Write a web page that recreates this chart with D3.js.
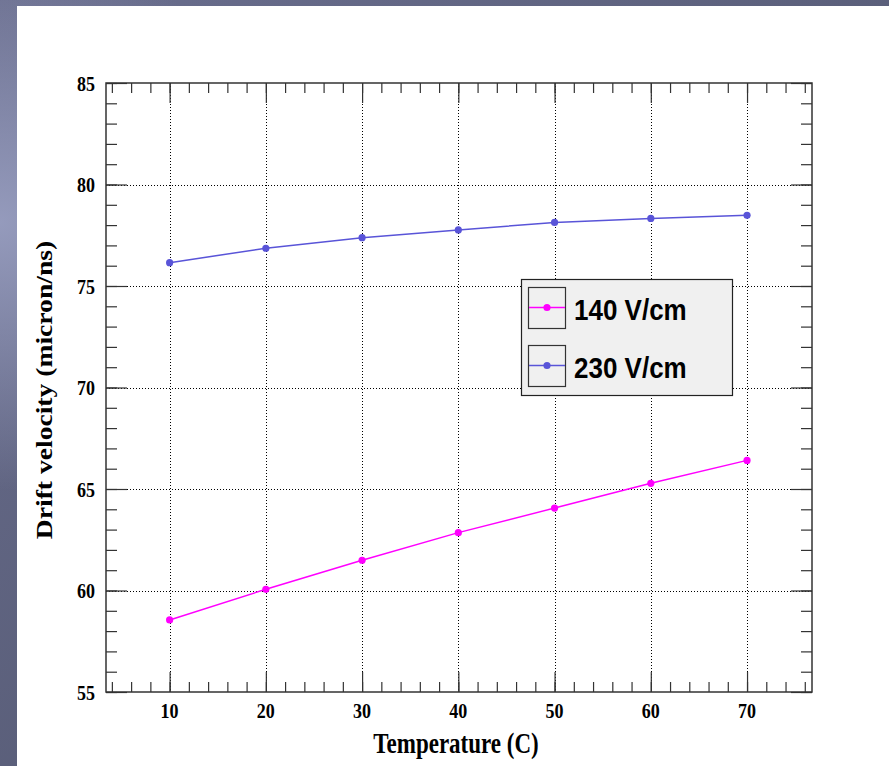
<!DOCTYPE html>
<html>
<head>
<meta charset="utf-8">
<script src="https://cdn.jsdelivr.net/npm/d3@7"></script>
<style>
  html, body { margin: 0; padding: 0; background: #5f6482; }
  svg { display: block; }
</style>
</head>
<body>
<svg id="chart" width="889" height="766"></svg>
<script>
// ---------- data ----------
const temperatures = [10, 20, 30, 40, 50, 60, 70];
const v140 = [58.55, 60.06, 61.49, 62.85, 64.06, 65.28, 66.41];
const v230 = [76.15, 76.86, 77.38, 77.76, 78.13, 78.33, 78.48];
const seriesNames = ["140 V/cm", "230 V/cm"];
const seriesColors = ["#ff00ff", "#5954d8"];
const xTickValues = [10, 20, 30, 40, 50, 60, 70];
const xMinorTicks = d3.range(4, 77, 2);
const yTickValues = [55, 60, 65, 70, 75, 80, 85];
const yMinorTicks = d3.range(55, 86, 1);
const xTitle = "Temperature (C)";
const yTitle = "Drift velocity (micron/ns)";

// ---------- layout ----------
const svg = d3.select("#chart");
const W = 889, H = 766;
const frame = { left: 106, right: 812, top: 83, bottom: 692 };

const defs = svg.append("defs");
const lg = defs.append("linearGradient").attr("id", "bgLin")
  .attr("x1", 0).attr("y1", 0).attr("x2", 1).attr("y2", 1);
lg.append("stop").attr("offset", "0%").attr("stop-color", "#6a6e8e");
lg.append("stop").attr("offset", "100%").attr("stop-color", "#4c5168");
const rg = defs.append("radialGradient").attr("id", "bgRad")
  .attr("cx", 0).attr("cy", 0.29).attr("r", 0.35)
  .attr("gradientUnits", "objectBoundingBox");
rg.append("stop").attr("offset", "0%").attr("stop-color", "#9aa0c2").attr("stop-opacity", 0.9);
rg.append("stop").attr("offset", "100%").attr("stop-color", "#9aa0c2").attr("stop-opacity", 0);

svg.append("rect").attr("width", W).attr("height", H).attr("fill", "url(#bgLin)");
svg.append("rect").attr("width", W).attr("height", H).attr("fill", "url(#bgRad)");
svg.append("rect").attr("x", 17).attr("y", 6).attr("width", W - 17).attr("height", H - 6).attr("fill", "#ffffff");

const x = d3.scaleLinear().domain([3.39, 76.75]).range([frame.left, frame.right]);
const y = d3.scaleLinear().domain([55, 85]).range([frame.bottom, frame.top]);

const axisColor = "#333";

// grid (dotted)
const grid = svg.append("g").attr("stroke", "#000").attr("stroke-width", 1)
  .attr("stroke-dasharray", "1,2").attr("shape-rendering", "crispEdges");
grid.selectAll("line.gx").data(xTickValues).join("line")
  .attr("x1", d => Math.round(x(d)) + 0.5).attr("x2", d => Math.round(x(d)) + 0.5)
  .attr("y1", frame.top).attr("y2", frame.bottom);
grid.selectAll("line.gy").data(yTickValues.filter(v => v > 55 && v < 85)).join("line")
  .attr("y1", d => Math.round(y(d)) + 0.5).attr("y2", d => Math.round(y(d)) + 0.5)
  .attr("x1", frame.left).attr("x2", frame.right);

// axes (ticks only, labels drawn separately)
function styleAxis(g) {
  g.select(".domain").remove();
  g.selectAll(".tick line").attr("stroke", axisColor).attr("stroke-width", 1.2);
  g.selectAll(".tick text").remove();
}
const majorLen = 20, minorLen = 10;
svg.append("g").attr("transform", `translate(0,${frame.bottom})`)
  .call(d3.axisBottom(x).tickValues(xMinorTicks).tickSize(-minorLen).tickFormat("")).call(styleAxis);
svg.append("g").attr("transform", `translate(0,${frame.bottom})`)
  .call(d3.axisBottom(x).tickValues(xTickValues).tickSize(-majorLen).tickFormat("")).call(styleAxis);
svg.append("g").attr("transform", `translate(0,${frame.top})`)
  .call(d3.axisTop(x).tickValues(xMinorTicks).tickSize(-minorLen).tickFormat("")).call(styleAxis);
svg.append("g").attr("transform", `translate(0,${frame.top})`)
  .call(d3.axisTop(x).tickValues(xTickValues).tickSize(-majorLen).tickFormat("")).call(styleAxis);
svg.append("g").attr("transform", `translate(${frame.left},0)`)
  .call(d3.axisLeft(y).tickValues(yMinorTicks).tickSize(-minorLen - 1).tickFormat("")).call(styleAxis);
svg.append("g").attr("transform", `translate(${frame.left},0)`)
  .call(d3.axisLeft(y).tickValues(yTickValues).tickSize(-majorLen - 1).tickFormat("")).call(styleAxis);
svg.append("g").attr("transform", `translate(${frame.right},0)`)
  .call(d3.axisRight(y).tickValues(yMinorTicks).tickSize(-minorLen - 1).tickFormat("")).call(styleAxis);
svg.append("g").attr("transform", `translate(${frame.right},0)`)
  .call(d3.axisRight(y).tickValues(yTickValues).tickSize(-majorLen - 1).tickFormat("")).call(styleAxis);

// frame
svg.append("rect").attr("x", frame.left).attr("y", frame.top)
  .attr("width", frame.right - frame.left).attr("height", frame.bottom - frame.top)
  .attr("fill", "none").attr("stroke", axisColor).attr("stroke-width", 1.5);

// stretched text helper
function stretchedText(parent, tx, ty, txt, opts) {
  const g = parent.append("g").attr("transform",
    `translate(${tx},${ty})` + (opts.rotate ? ` rotate(${opts.rotate})` : "") +
    ` scale(${opts.sx || 1},${opts.sy || 1})`);
  return g.append("text").attr("x", 0).attr("y", 0)
    .attr("text-anchor", opts.anchor || "middle")
    .attr("font-family", opts.family)
    .attr("font-weight", "bold")
    .attr("font-size", opts.size)
    .attr("fill", "#000")
    .text(txt);
}
const serif = "'Liberation Serif', 'Times New Roman', serif";
const sans = "'Liberation Sans', Arial, Helvetica, sans-serif";

// tick labels
const labels = svg.append("g");
xTickValues.forEach(v => stretchedText(labels, x(v), 718, String(v), { family: serif, size: 18, sy: 1.22 }));
yTickValues.forEach(v => stretchedText(labels, 95, y(v) + 7.5, String(v), { family: serif, size: 18, sy: 1.22, anchor: "end" }));

// axis titles
stretchedText(svg, 456, 753, xTitle, { family: serif, size: 23, sy: 1.28 });
stretchedText(svg, 52, 390, yTitle, { family: serif, size: 24, sx: 1.15, rotate: -90 });

// series
const seriesData = [v140, v230];
const line = d3.line().x((d, i) => x(temperatures[i])).y(d => y(d));
seriesData.forEach((vals, si) => {
  const g = svg.append("g");
  g.append("path").datum(vals).attr("d", line)
    .attr("fill", "none").attr("stroke", seriesColors[si]).attr("stroke-width", 1.5);
  g.selectAll("circle").data(vals).join("circle")
    .attr("cx", (d, i) => x(temperatures[i])).attr("cy", d => y(d))
    .attr("r", 3.6).attr("fill", seriesColors[si]);
});

// legend
const leg = { x: 521, y: 279, w: 211, h: 116 };
const lgG = svg.append("g");
lgG.append("rect").attr("x", leg.x + 0.5).attr("y", leg.y + 0.5).attr("width", leg.w).attr("height", leg.h)
  .attr("fill", "#f0f0f0").attr("stroke", "#222").attr("stroke-width", 1.2);
const rowTops = [287, 345];
seriesNames.forEach((name, i) => {
  const top = rowTops[i];
  lgG.append("rect").attr("x", 528.5).attr("y", top + 0.5).attr("width", 37).attr("height", 41)
    .attr("fill", "#f0f0f0").attr("stroke", "#333").attr("stroke-width", 1.2);
  const cy = top + 20.5;
  lgG.append("line").attr("x1", 529).attr("x2", 565).attr("y1", cy).attr("y2", cy)
    .attr("stroke", seriesColors[i]).attr("stroke-width", 1.5);
  lgG.append("circle").attr("cx", 547).attr("cy", cy).attr("r", 3.6).attr("fill", seriesColors[i]);
  stretchedText(lgG, 574, top + 33, name, { family: sans, size: 26, sy: 1.17, anchor: "start" });
});
</script>
</body>
</html>
